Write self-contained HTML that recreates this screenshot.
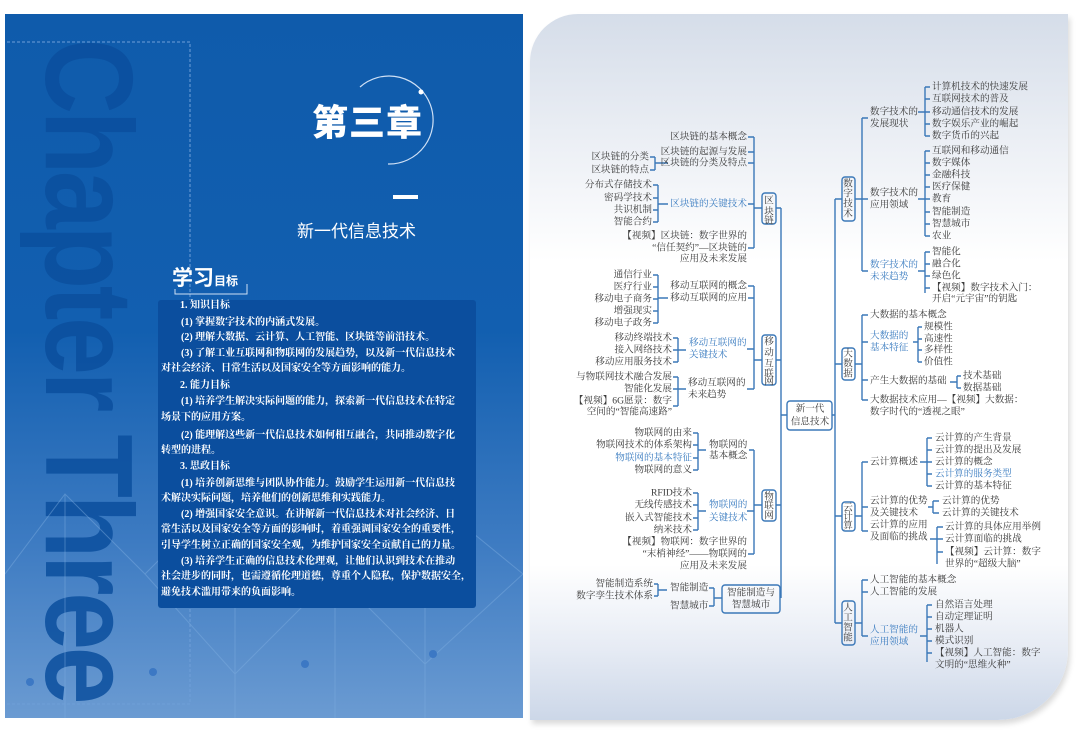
<!DOCTYPE html>
<html><head><meta charset="utf-8">
<style>
*{margin:0;padding:0;box-sizing:border-box}
body{width:1080px;height:739px;background:#fff;position:relative;overflow:hidden;font-family:"Liberation Sans","Noto Sans CJK SC",sans-serif}
#left{position:absolute;left:5px;top:14px;width:518px;height:704px;background:linear-gradient(180deg,#0f5bab 0%,#125fb0 45%,#3d7bc2 75%,#6b9bd2 100%);overflow:hidden}
#wm{position:absolute;left:-352px;top:296px;width:870px;height:120px;transform:rotate(90deg) scaleX(0.84);font:bold 124px "Liberation Sans",sans-serif;color:#0b4f9e;letter-spacing:-4px;white-space:nowrap;line-height:120px;text-align:center;opacity:.85}
#right{position:absolute;left:530px;top:14px;width:538px;height:706px;border-radius:48px 0 70px 0;background:linear-gradient(180deg,#d5dde9 0%,#eef1f6 20%,#fff 35%,#fff 78%,#e6ebf4 90%,#ccd7e8 100%);box-shadow:2px 4px 6px rgba(0,0,0,.15)}
.obj{position:absolute;left:158px;top:300px;width:318px;height:308px;background:#0b4e9e;border-radius:3px}
#objt p{position:absolute;left:161px;width:312px;font:bold 10px "Liberation Serif","Noto Serif CJK SC",serif;color:#fff;white-space:nowrap;line-height:12px}
</style></head><body>
<div id="left">
<div id="wm">Chapter Three</div>
<svg width="518" height="704" style="position:absolute;left:0;top:0">
<g stroke="#7faee0" stroke-width="1" fill="none" opacity=".45">
<path d="M0 560 L60 480 L140 560 L230 470 L330 560 L420 480 L518 560"/>
<path d="M140 560 L230 660 L330 560 L420 650 L518 560"/>
<path d="M60 480 V704 M230 470 V704 M330 560 V704 M420 480 V704"/>
</g>
<g fill="#3c78c4"><circle cx="25" cy="668" r="4"/><circle cx="148" cy="658" r="4"/><circle cx="300" cy="650" r="4"/><circle cx="428" cy="640" r="4"/></g>
<path d="M-3 28 H185 V690 H-3" stroke="#6f9fd8" stroke-dasharray="3 2" fill="none"/>
</svg>
</div>
<div style="position:absolute;left:312px;top:98px;font:900 36px 'Noto Sans CJK SC',sans-serif;color:#fff;letter-spacing:1px;line-height:44px">第三章</div>
<svg width="1080" height="739" style="position:absolute;left:0;top:0">
<path d="M360 87 A44 44 0 1 1 388 164" stroke="#cfe0f5" stroke-width="1.2" fill="none"/>
<circle cx="421" cy="92" r="2.5" fill="#fff"/>
<rect x="393" y="195" width="25" height="4" fill="#fff"/>
<path d="M175 289 V294 H247 V284" stroke="#cfe0f5" fill="none"/>
</svg>
<div style="position:absolute;left:297px;top:217px;font:17px 'Noto Sans CJK SC',sans-serif;color:#fff">新一代信息技术</div>
<div style="position:absolute;left:172px;top:262px;font:bold 21px 'Noto Sans CJK SC',sans-serif;color:#fff">学习<span style="font-size:12px">目标</span></div>
<div class="obj"></div>
<div id="objt">
<p style="top:300px;left:180px">1. 知识目标</p>
<p style="top:317px">　　(1) 掌握数字技术的内涵式发展。</p>
<p style="top:332px">　　(2) 理解大数据、云计算、人工智能、区块链等前沿技术。</p>
<p style="top:348px">　　(3) 了解工业互联网和物联网的发展趋势，以及新一代信息技术</p>
<p style="top:363px">对社会经济、日常生活以及国家安全等方面影响的能力。</p>
<p style="top:380px;left:180px">2. 能力目标</p>
<p style="top:396px">　　(1) 培养学生解决实际问题的能力，探索新一代信息技术在特定</p>
<p style="top:412px">场景下的应用方案。</p>
<p style="top:430px">　　(2) 能理解这些新一代信息技术如何相互融合，共同推动数字化</p>
<p style="top:445px">转型的进程。</p>
<p style="top:461px;left:180px">3. 思政目标</p>
<p style="top:478px">　　(1) 培养创新思维与团队协作能力。鼓励学生运用新一代信息技</p>
<p style="top:493px">术解决实际问题，培养他们的创新思维和实践能力。</p>
<p style="top:509px">　　(2) 增强国家安全意识。在讲解新一代信息技术对社会经济、日</p>
<p style="top:524px">常生活以及国家安全等方面的影响时，着重强调国家安全的重要性，</p>
<p style="top:540px">引导学生树立正确的国家安全观，为维护国家安全贡献自己的力量。</p>
<p style="top:556px">　　(3) 培养学生正确的信息技术伦理观，让他们认识到技术在推动</p>
<p style="top:571px">社会进步的同时，也需遵循伦理道德，尊重个人隐私，保护数据安全，</p>
<p style="top:587px">避免技术滥用带来的负面影响。</p>
</div>
<div id="right"></div>
<svg width="1080" height="739" style="position:absolute;left:0;top:0" font-family="'Liberation Serif','Noto Serif CJK SC',serif" font-size="9.6" fill="#3a3a3a">
<g stroke="#3b78b8" stroke-width="1.4" fill="none">
<path d="M781 208 V598 M781 415 H787 M832 415 H835 M835 199 V623"/>
<path d="M776 208 H781 M776 360 H781 M776 505 H781"/>
<path d="M835 199 H842 M835 364 H842 M835 516 H842 M835 623 H842"/>
<rect x="762" y="193" width="14" height="31" rx="3"/>
<rect x="762" y="335" width="14" height="50" rx="3"/>
<rect x="762" y="490" width="14" height="31" rx="3"/>
<rect x="722" y="585" width="58" height="28" rx="3"/>
<rect x="787" y="401" width="45" height="29" rx="3"/>
<rect x="842" y="177" width="13" height="44" rx="3"/>
<rect x="842" y="348" width="13" height="32" rx="3"/>
<rect x="842" y="502" width="13" height="29" rx="3"/>
<rect x="842" y="601" width="13" height="44" rx="3"/>
<path d="M754 137 V248 M748 137 H754 M748 152 H754 M748 163 H754 M748 204 H754 M748 248 H754 M754 208 H762"/>
<path d="M655 157 V170 M650 157 H655 M650 170 H655 M655 163 H668"/>
<path d="M658 185 V222 M653 185 H658 M653 198 H658 M653 210 H658 M653 222 H658 M658 204 H668"/>
<path d="M754 286 V389 M748 286 H754 M748 298 H754 M747 349 H754 M747 389 H754 M754 360 H762"/>
<path d="M658 275 V323 M653 275 H658 M653 287 H658 M653 299 H658 M653 311 H658 M653 323 H658 M658 298 H668"/>
<path d="M678 338 V362 M673 338 H678 M673 350 H678 M673 362 H678 M678 350 H686"/>
<path d="M678 377 V406 M673 377 H678 M673 389 H678 M673 406 H678 M678 389 H686"/>
<path d="M754 450 V554 M749 450 H754 M747 511 H754 M748 554 H754 M754 505 H762"/>
<path d="M698 433 V470 M693 433 H698 M693 445 H698 M693 458 H698 M693 470 H698 M698 450 H706"/>
<path d="M698 493 V530 M693 493 H698 M693 505 H698 M693 518 H698 M693 530 H698 M698 511 H706"/>
<path d="M714 588 V606 M709 588 H714 M709 606 H714 M714 598 H722"/>
<path d="M658 584 V596 M654 584 H658 M654 596 H658 M658 590 H667"/>
<path d="M855 199 H862 M855 364 H862 M855 516 H862 M855 623 H862"/>
<path d="M862 118 V271 M862 118 H868 M862 199 H868 M862 271 H868"/>
<path d="M925 87 V136 M918 112 H925 M925 87 H930 M925 99 H930 M925 112 H930 M925 124 H930 M925 136 H930"/>
<path d="M925 151 V236 M918 199 H925 M925 151 H930 M925 163 H930 M925 175 H930 M925 187 H930 M925 199 H930 M925 212 H930 M925 224 H930 M925 236 H930"/>
<path d="M925 252 V293 M918 271 H925 M925 252 H930 M925 264 H930 M925 276 H930 M925 288 H930"/>
<path d="M862 315 V400 M862 315 H868 M862 342 H868 M862 380 H868 M862 400 H868"/>
<path d="M918 327 V362 M913 342 H918 M918 327 H922 M918 339 H922 M918 350 H922 M918 362 H922"/>
<path d="M957 376 V388 M950 382 H957 M957 376 H961 M957 388 H961"/>
<path d="M862 462 V531 M862 462 H868 M862 507 H868 M862 531 H868"/>
<path d="M927 438 V486 M920 462 H927 M927 438 H932 M927 450 H932 M927 462 H932 M927 474 H932 M927 486 H932"/>
<path d="M933 501 V513 M928 507 H933 M933 501 H939 M933 513 H939"/>
<path d="M937 527 V564 M930 539 H937 M937 527 H943 M937 539 H943 M937 552 H943"/>
<path d="M862 580 V636 M862 580 H868 M862 592 H868 M862 636 H868"/>
<path d="M927 605 V662 M920 636 H927 M927 605 H932 M927 617 H932 M927 629 H932 M927 641 H932 M927 653 H932"/>
</g>
<g dominant-baseline="central">
<g text-anchor="middle" font-size="9.6">
<text x="769" y="201">区</text><text x="769" y="212">块</text><text x="769" y="222" dy="-1">链</text>
<text x="769" y="342">移</text><text x="769" y="353">动</text><text x="769" y="364">互</text><text x="769" y="374">联</text><text x="769" y="384" dy="-2">网</text>
<text x="769" y="497">物</text><text x="769" y="506">联</text><text x="769" y="516">网</text>
<text x="751" y="593">智能制造与</text><text x="751" y="605">智慧城市</text>
<text x="810" y="409">新一代</text><text x="810" y="422">信息技术</text>
<text x="848" y="184">数</text><text x="848" y="194">字</text><text x="848" y="204">技</text><text x="848" y="214">术</text>
<text x="848" y="354">大</text><text x="848" y="364">数</text><text x="848" y="374">据</text>
<text x="848" y="508">云</text><text x="848" y="517">计</text><text x="848" y="526">算</text>
<text x="848" y="608">人</text><text x="848" y="618">工</text><text x="848" y="628">智</text><text x="848" y="638">能</text>
</g>
<g text-anchor="end">
<text x="747" y="137">区块链的基本概念</text>
<text x="747" y="152">区块链的起源与发展</text>
<text x="747" y="163">区块链的分类及特点</text>
<text x="649" y="157">区块链的分类</text><text x="649" y="170">区块链的特点</text>
<text x="652" y="185">分布式存储技术</text><text x="652" y="198">密码学技术</text><text x="652" y="210">共识机制</text><text x="652" y="222">智能合约</text>
<text x="747" y="204" fill="#3a7cc0">区块链的关键技术</text>
<text x="747" y="236">【视频】区块链：数字世界的</text>
<text x="747" y="248">“信任契约”—区块链的</text>
<text x="747" y="259">应用及未来发展</text>
<text x="652" y="275">通信行业</text><text x="652" y="287">医疗行业</text><text x="652" y="299">移动电子商务</text><text x="652" y="311">增强现实</text><text x="652" y="323">移动电子政务</text>
<text x="747" y="286">移动互联网的概念</text><text x="747" y="298">移动互联网的应用</text>
<text x="672" y="338">移动终端技术</text><text x="672" y="350">接入网络技术</text><text x="672" y="362">移动应用服务技术</text>
<text x="672" y="377">与物联网技术融合发展</text><text x="672" y="389">智能化发展</text><text x="672" y="401">【视频】6G愿景：数字</text><text x="672" y="412">空间的“智能高速路”</text>
<text x="692" y="433">物联网的由来</text><text x="692" y="445">物联网技术的体系架构</text><text x="692" y="458" fill="#3a7cc0">物联网的基本特征</text><text x="692" y="470">物联网的意义</text>
<text x="692" y="493">RFID技术</text><text x="692" y="505">无线传感技术</text><text x="692" y="518">嵌入式智能技术</text><text x="692" y="530">纳米技术</text>
<text x="747" y="542">【视频】物联网：数字世界的</text><text x="747" y="554">“末梢神经”——物联网的</text><text x="747" y="566">应用及未来发展</text>
<text x="653" y="584">智能制造系统</text><text x="653" y="596">数字孪生技术体系</text>
</g>
<g>
<text x="689" y="343" fill="#3a7cc0">移动互联网的</text><text x="689" y="355" fill="#3a7cc0">关键技术</text>
<text x="688" y="383">移动互联网的</text><text x="688" y="395">未来趋势</text>
<text x="709" y="445">物联网的</text><text x="709" y="456">基本概念</text>
<text x="709" y="505" fill="#3a7cc0">物联网的</text><text x="709" y="518" fill="#3a7cc0">关键技术</text>
<text x="670" y="588">智能制造</text><text x="670" y="606">智慧城市</text>
<text x="870" y="112">数字技术的</text><text x="870" y="124">发展现状</text>
<text x="932" y="87">计算机技术的快速发展</text><text x="932" y="99">互联网技术的普及</text><text x="932" y="112">移动通信技术的发展</text><text x="932" y="124">数字娱乐产业的崛起</text><text x="932" y="136">数字货币的兴起</text>
<text x="870" y="193">数字技术的</text><text x="870" y="205">应用领域</text>
<text x="932" y="151">互联网和移动通信</text><text x="932" y="163">数字媒体</text><text x="932" y="175">金融科技</text><text x="932" y="187">医疗保健</text><text x="932" y="199">教育</text><text x="932" y="212">智能制造</text><text x="932" y="224">智慧城市</text><text x="932" y="236">农业</text>
<text x="870" y="265" fill="#3a7cc0">数字技术的</text><text x="870" y="277" fill="#3a7cc0">未来趋势</text>
<text x="932" y="252">智能化</text><text x="932" y="264">融合化</text><text x="932" y="276">绿色化</text><text x="932" y="288">【视频】数字技术入门：</text><text x="932" y="299">开启“元宇宙”的钥匙</text>
<text x="870" y="315">大数据的基本概念</text>
<text x="870" y="336" fill="#3a7cc0">大数据的</text><text x="870" y="348" fill="#3a7cc0">基本特征</text>
<text x="924" y="327">规模性</text><text x="924" y="339">高速性</text><text x="924" y="350">多样性</text><text x="924" y="362">价值性</text>
<text x="870" y="381">产生大数据的基础</text>
<text x="963" y="376">技术基础</text><text x="963" y="388">数据基础</text>
<text x="870" y="400">大数据技术应用—【视频】大数据：</text><text x="870" y="412">数字时代的“透视之眼”</text>
<text x="870" y="462">云计算概述</text>
<text x="935" y="438">云计算的产生背景</text><text x="935" y="450">云计算的提出及发展</text><text x="935" y="462">云计算的概念</text><text x="935" y="474" fill="#3a7cc0">云计算的服务类型</text><text x="935" y="486">云计算的基本特征</text>
<text x="870" y="501">云计算的优势</text><text x="870" y="513">及关键技术</text>
<text x="942" y="501">云计算的优势</text><text x="942" y="513">云计算的关键技术</text>
<text x="870" y="525">云计算的应用</text><text x="870" y="537">及面临的挑战</text>
<text x="945" y="527">云计算的具体应用举例</text><text x="945" y="539">云计算面临的挑战</text><text x="945" y="552">【视频】云计算：数字</text><text x="945" y="564">世界的“超级大脑”</text>
<text x="870" y="580">人工智能的基本概念</text><text x="870" y="592">人工智能的发展</text>
<text x="870" y="630" fill="#3a7cc0">人工智能的</text><text x="870" y="642" fill="#3a7cc0">应用领域</text>
<text x="935" y="605">自然语言处理</text><text x="935" y="617">自动定理证明</text><text x="935" y="629">机器人</text><text x="935" y="641">模式识别</text><text x="935" y="653">【视频】人工智能：数字</text><text x="935" y="665">文明的“思维火种”</text>
</g>
</g>
</svg>
</body></html>
